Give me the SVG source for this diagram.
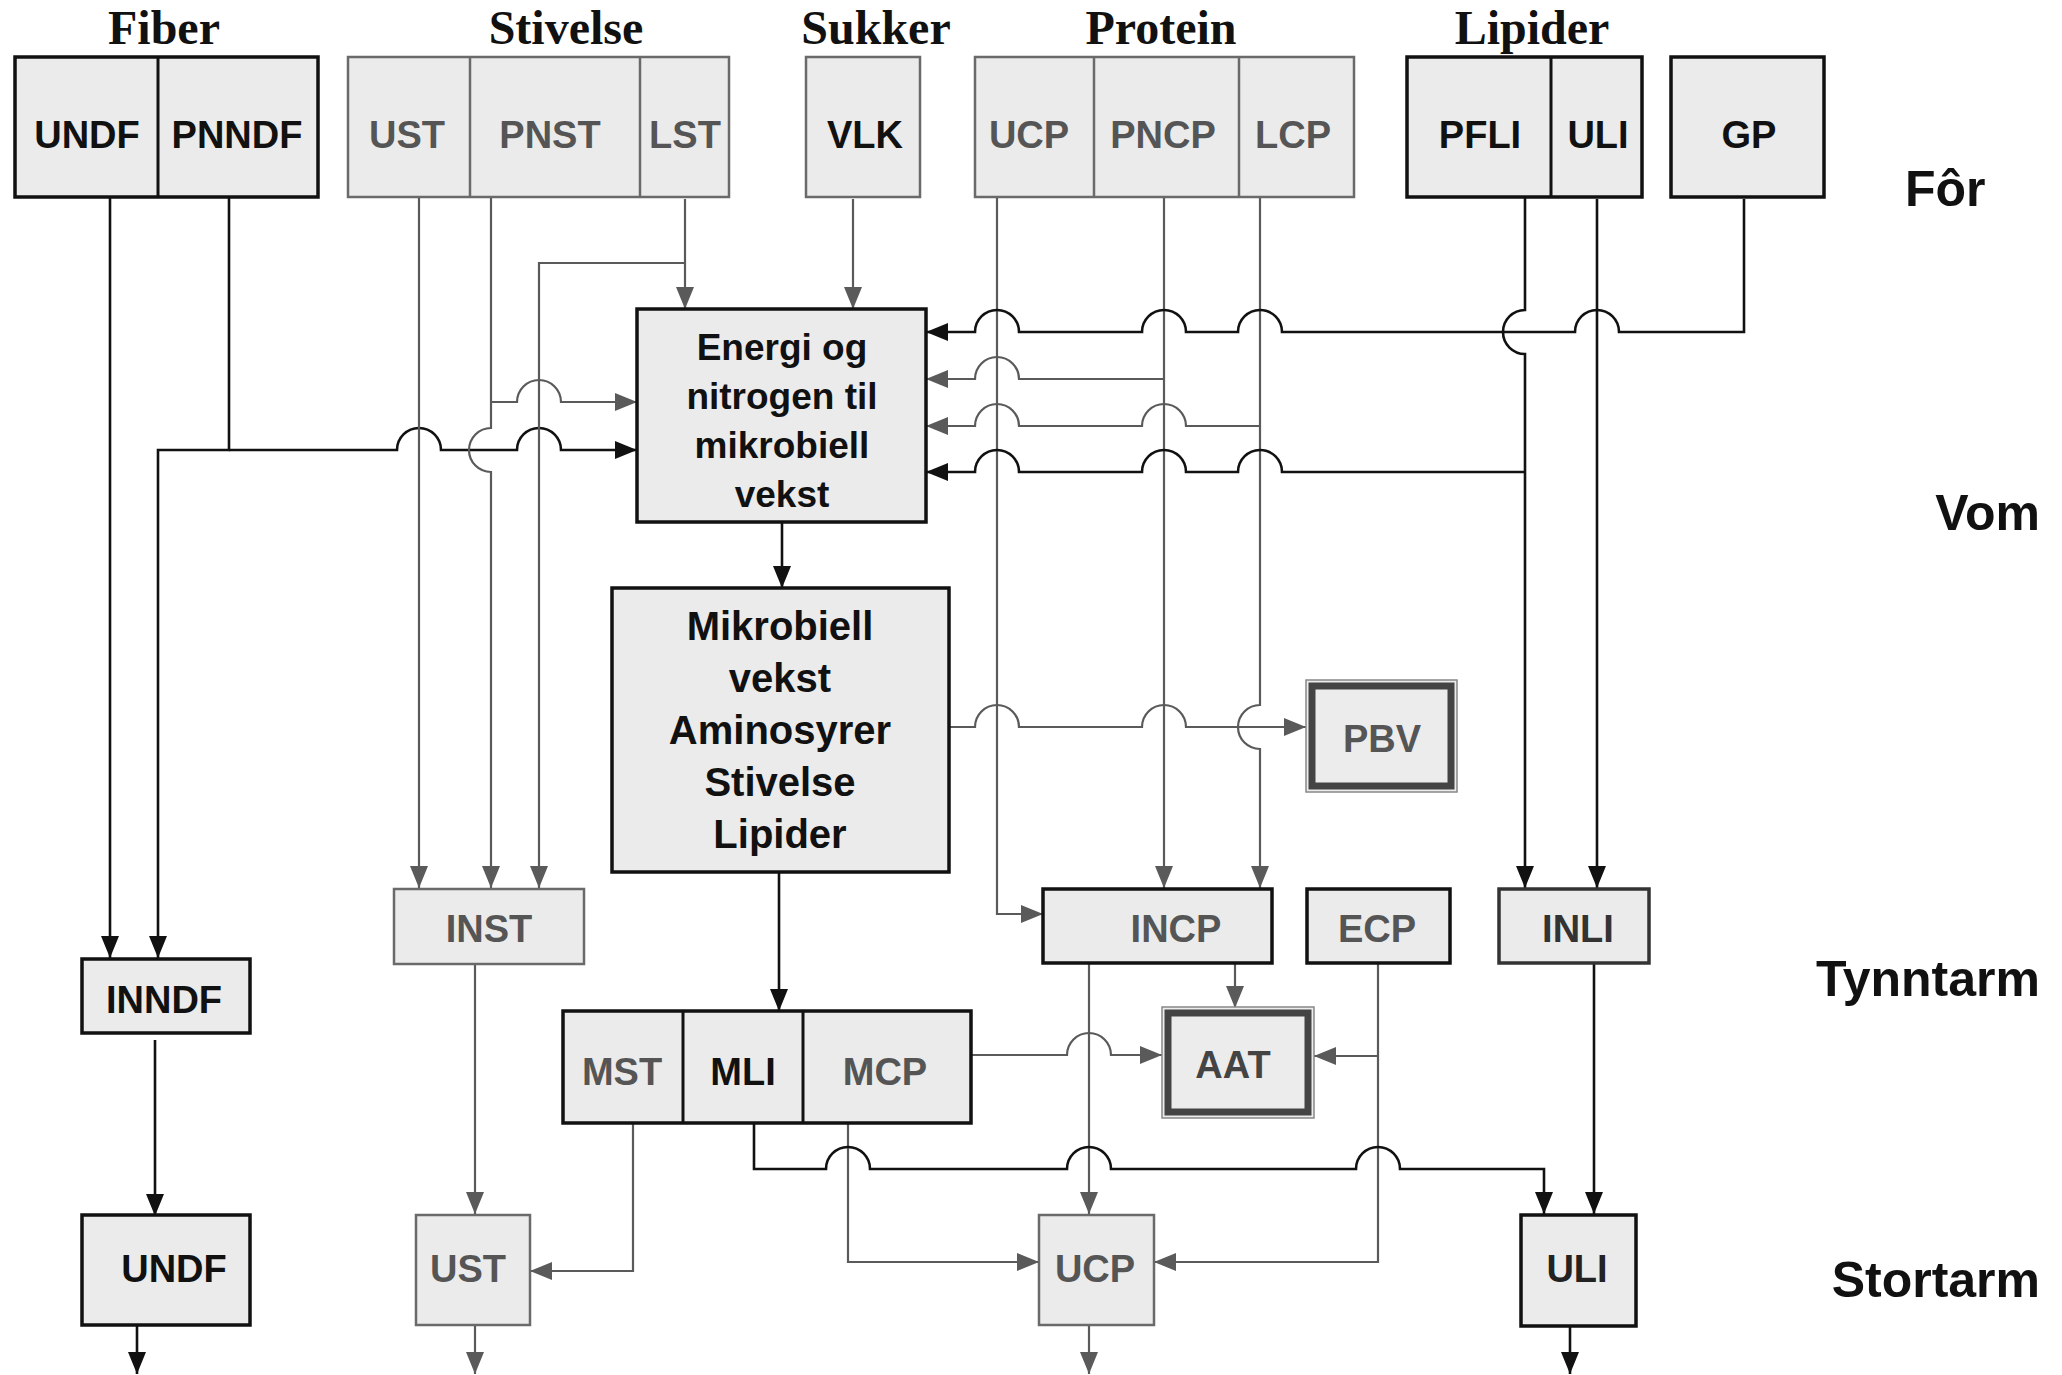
<svg xmlns="http://www.w3.org/2000/svg" width="2062" height="1375" viewBox="0 0 2062 1375">
<style>
.bk{fill:#ebebeb;stroke:#111;stroke-width:3.5}
.bg{fill:#ebebeb;stroke:#6a6a6a;stroke-width:2.5}
.dk{stroke:#111;stroke-width:3}
.dg{stroke:#6a6a6a;stroke-width:2.5}
.lbl{font-family:"Liberation Sans",Arial,sans-serif;font-weight:bold;font-size:38px;text-anchor:middle}
.big{font-family:"Liberation Sans",Arial,sans-serif;font-weight:bold;text-anchor:middle;fill:#111}
.tk{fill:#111}
.tg{fill:#555}
.hd{font-family:"Liberation Serif","Times New Roman",serif;font-weight:bold;font-size:48px;text-anchor:middle;fill:#111}
.zone{font-family:"Liberation Sans",Arial,sans-serif;font-weight:bold;font-size:50px;fill:#111}
.ck{fill:none;stroke:#111;stroke-width:2.6}
.cg{fill:none;stroke:#5a5a5a;stroke-width:2.2}
.outer{fill:#ececec;stroke:#888;stroke-width:1.5}
.inner{fill:none;stroke:#444;stroke-width:7}
</style>
<defs>
<marker id="arrK" markerUnits="userSpaceOnUse" markerWidth="24" markerHeight="20" refX="22" refY="9" orient="auto"><path d="M0,0 L22,9 L0,18 z" fill="#111"/></marker>
<marker id="arrG" markerUnits="userSpaceOnUse" markerWidth="24" markerHeight="20" refX="22" refY="9" orient="auto"><path d="M0,0 L22,9 L0,18 z" fill="#5a5a5a"/></marker>
</defs>
<rect width="2062" height="1375" fill="#fff"/>

<g id="headers">
<text class="hd" x="164" y="44">Fiber</text>
<text class="hd" x="566" y="44">Stivelse</text>
<text class="hd" x="876" y="44">Sukker</text>
<text class="hd" x="1161" y="44">Protein</text>
<text class="hd" x="1532" y="44">Lipider</text>
</g>
<g id="zones">
<text class="zone" x="1905" y="206">Fôr</text>
<text class="zone" x="2040" y="530" text-anchor="end">Vom</text>
<text class="zone" x="2040" y="996" text-anchor="end">Tynntarm</text>
<text class="zone" x="2040" y="1297" text-anchor="end">Stortarm</text>
</g>

<g id="connectors">
<path class="ck" d="M110,197 V958" marker-end="url(#arrK)"/>
<path class="ck" d="M229,197 V450 H158 V958" marker-end="url(#arrK)"/>
<path class="ck" d="M229,450 H397 A22,22 0 0 1 441,450 H517 A22,22 0 0 1 561,450 H637" marker-end="url(#arrK)"/>
<path class="cg" d="M419,197 V888" marker-end="url(#arrG)"/>
<path class="cg" d="M491,197 V428 A22,22 0 0 0 491,472 V888" marker-end="url(#arrG)"/>
<path class="cg" d="M491,402 H517 A22,22 0 0 1 561,402 H637" marker-end="url(#arrG)"/>
<path class="cg" d="M685,199 V309" marker-end="url(#arrG)"/>
<path class="cg" d="M685,263 H539 V888" marker-end="url(#arrG)"/>
<path class="cg" d="M853,199 V309" marker-end="url(#arrG)"/>
<path class="cg" d="M997,197 V914 H1043" marker-end="url(#arrG)"/>
<path class="cg" d="M1164,197 V888" marker-end="url(#arrG)"/>
<path class="cg" d="M1164,379 H1019 A22,22 0 0 0 975,379 H926" marker-end="url(#arrG)"/>
<path class="cg" d="M1260,197 V705 A22,22 0 0 0 1260,749 V888" marker-end="url(#arrG)"/>
<path class="cg" d="M1260,426 H1186 A22,22 0 0 0 1142,426 H1019 A22,22 0 0 0 975,426 H926" marker-end="url(#arrG)"/>
<path class="ck" d="M1525,197 V310 A22,22 0 0 0 1525,354 V888" marker-end="url(#arrK)"/>
<path class="ck" d="M1525,472 H1282 A22,22 0 0 0 1238,472 H1186 A22,22 0 0 0 1142,472 H1019 A22,22 0 0 0 975,472 H926" marker-end="url(#arrK)"/>
<path class="ck" d="M1597,199 V888" marker-end="url(#arrK)"/>
<path class="ck" d="M1744,199 V332 H1619 A22,22 0 0 0 1575,332 H1282 A22,22 0 0 0 1238,332 H1186 A22,22 0 0 0 1142,332 H1019 A22,22 0 0 0 975,332 H926" marker-end="url(#arrK)"/>
<path class="ck" d="M782,522 V588" marker-end="url(#arrK)"/>
<path class="cg" d="M949,727 H975 A22,22 0 0 1 1019,727 H1142 A22,22 0 0 1 1186,727 H1306" marker-end="url(#arrG)"/>
<path class="ck" d="M779,872 V1011" marker-end="url(#arrK)"/>
<path class="cg" d="M1235,963 V1008" marker-end="url(#arrG)"/>
<path class="cg" d="M1089,963 V1214" marker-end="url(#arrG)"/>
<path class="cg" d="M1378,963 V1262 H1154" marker-end="url(#arrG)"/>
<path class="cg" d="M1378,1056 H1314" marker-end="url(#arrG)"/>
<path class="cg" d="M971,1055 H1067 A22,22 0 0 1 1111,1055 H1162" marker-end="url(#arrG)"/>
<path class="cg" d="M848,1123 V1262 H1039" marker-end="url(#arrG)"/>
<path class="ck" d="M754,1123 V1169 H826 A22,22 0 0 1 870,1169 H1067 A22,22 0 0 1 1111,1169 H1356 A22,22 0 0 1 1400,1169 H1544 V1214" marker-end="url(#arrK)"/>
<path class="ck" d="M1594,963 V1214" marker-end="url(#arrK)"/>
<path class="cg" d="M633,1123 V1271 H530" marker-end="url(#arrG)"/>
<path class="cg" d="M475,964 V1214" marker-end="url(#arrG)"/>
<path class="ck" d="M155,1040 V1216" marker-end="url(#arrK)"/>
<path class="ck" d="M137,1325 V1374" marker-end="url(#arrK)"/>
<path class="cg" d="M475,1325 V1374" marker-end="url(#arrG)"/>
<path class="cg" d="M1089,1325 V1374" marker-end="url(#arrG)"/>
<path class="ck" d="M1570,1326 V1374" marker-end="url(#arrK)"/>
</g>

<g id="fiber">
<rect class="bk" x="15" y="57" width="303" height="140"/>
<line class="dk" x1="158" y1="57" x2="158" y2="197"/>
<text class="lbl tk" x="87" y="148">UNDF</text>
<text class="lbl tk" x="237" y="148">PNNDF</text>
</g>
<g id="stivelse">
<rect class="bg" x="348" y="57" width="381" height="140"/>
<line class="dg" x1="470" y1="57" x2="470" y2="197"/>
<line class="dg" x1="640" y1="57" x2="640" y2="197"/>
<text class="lbl tg" x="407" y="148">UST</text>
<text class="lbl tg" x="550" y="148">PNST</text>
<text class="lbl tg" x="685" y="148">LST</text>
</g>
<g id="sukker">
<rect class="bg" x="806" y="57" width="114" height="140"/>
<text class="lbl tk" x="865" y="148">VLK</text>
</g>
<g id="protein">
<rect class="bg" x="975" y="57" width="379" height="140"/>
<line class="dg" x1="1094" y1="57" x2="1094" y2="197"/>
<line class="dg" x1="1239" y1="57" x2="1239" y2="197"/>
<text class="lbl tg" x="1029" y="148">UCP</text>
<text class="lbl tg" x="1163" y="148">PNCP</text>
<text class="lbl tg" x="1293" y="148">LCP</text>
</g>
<g id="lipider">
<rect class="bk" x="1407" y="57" width="235" height="140"/>
<line class="dk" x1="1551" y1="57" x2="1551" y2="197"/>
<text class="lbl tk" x="1480" y="148">PFLI</text>
<text class="lbl tk" x="1598" y="148">ULI</text>
</g>
<g id="gp">
<rect class="bk" x="1671" y="57" width="153" height="140"/>
<text class="lbl tk" x="1749" y="148">GP</text>
</g>

<g id="energi">
<rect class="bk" x="637" y="309" width="289" height="213"/>
<text class="big" font-size="37" x="782" y="360">Energi og</text>
<text class="big" font-size="37" x="782" y="409">nitrogen til</text>
<text class="big" font-size="37" x="782" y="458">mikrobiell</text>
<text class="big" font-size="37" x="782" y="507">vekst</text>
</g>
<g id="mikrobiell">
<rect class="bk" x="612" y="588" width="337" height="284"/>
<text class="big" font-size="40" x="780" y="640">Mikrobiell</text>
<text class="big" font-size="40" x="780" y="692">vekst</text>
<text class="big" font-size="40" x="780" y="744">Aminosyrer</text>
<text class="big" font-size="40" x="780" y="796">Stivelse</text>
<text class="big" font-size="40" x="780" y="848">Lipider</text>
</g>
<g id="pbv">
<rect class="outer" x="1306" y="680" width="151" height="112"/>
<rect class="inner" x="1312" y="686" width="139" height="100"/>
<text class="lbl tg" x="1382" y="752">PBV</text>
</g>
<g id="inst">
<rect class="bg" x="394" y="889" width="190" height="75"/>
<text class="lbl tg" x="489" y="942">INST</text>
</g>
<g id="incp">
<rect class="bk" x="1043" y="889" width="229" height="74"/>
<text class="lbl tg" x="1176" y="942">INCP</text>
</g>
<g id="ecp">
<rect class="bk" x="1307" y="889" width="143" height="74"/>
<text class="lbl tg" x="1377" y="942">ECP</text>
</g>
<g id="inli">
<rect class="bk" x="1499" y="889" width="150" height="74" style="stroke:#333"/>
<text class="lbl" fill="#333" x="1578" y="942">INLI</text>
</g>
<g id="inndf">
<rect class="bk" x="82" y="959" width="168" height="74"/>
<text class="lbl tk" x="164" y="1013">INNDF</text>
</g>
<g id="mikrobielle-fraksjoner">
<rect class="bk" x="563" y="1011" width="408" height="112"/>
<line class="dk" x1="683" y1="1011" x2="683" y2="1123"/>
<line class="dk" x1="803" y1="1011" x2="803" y2="1123"/>
<text class="lbl tg" x="622" y="1085">MST</text>
<text class="lbl tk" x="743" y="1085">MLI</text>
<text class="lbl tg" x="885" y="1085">MCP</text>
</g>
<g id="aat">
<rect class="outer" x="1162" y="1007" width="152" height="111"/>
<rect class="inner" x="1168" y="1013" width="140" height="99"/>
<text class="lbl" fill="#444" x="1233" y="1078">AAT</text>
</g>
<g id="undf">
<rect class="bk" x="82" y="1215" width="168" height="110"/>
<text class="lbl tk" x="174" y="1282">UNDF</text>
</g>
<g id="ust">
<rect class="bg" x="416" y="1215" width="114" height="110"/>
<text class="lbl tg" x="468" y="1282">UST</text>
</g>
<g id="ucp">
<rect class="bg" x="1039" y="1215" width="115" height="110"/>
<text class="lbl tg" x="1095" y="1282">UCP</text>
</g>
<g id="uli">
<rect class="bk" x="1521" y="1215" width="115" height="111"/>
<text class="lbl" fill="#222" x="1577" y="1282">ULI</text>
</g>
</svg>
